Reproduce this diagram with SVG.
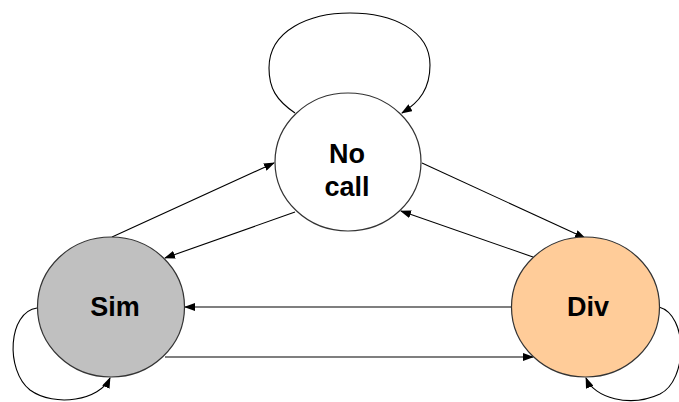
<svg xmlns="http://www.w3.org/2000/svg" width="679" height="402" viewBox="0 0 679 402">
  <style>
    .node { stroke: #333333; stroke-width: 1.2; }
    .label { font-family: "Liberation Sans", Arial, sans-serif; font-weight: bold; font-size: 27px; fill: #000000; text-anchor: middle; }
    .edge { fill: none; stroke: #000000; stroke-width: 1.1; marker-end: url(#arrow); }
  </style>
  <defs>
    <marker id="arrow" markerWidth="11" markerHeight="8" refX="10" refY="4" orient="auto" markerUnits="userSpaceOnUse">
      <path d="M0,0 L11,4 L0,8 Z" fill="#000000"/>
    </marker>
  </defs>
  <rect width="679" height="402" fill="#ffffff"/>

  <g id="connectors">
    <!-- self loops -->
    <path class="edge" d="M295,113 C276,100 269,88 269,68 C269,30 310,13 350,13 C392,13 430,30 430,65 C430,88 420,102 402,113"/>
    <path class="edge" d="M37,308 C8,312 5,370 30,390 C55,408 100,400 110,378"/>
    <path class="edge" d="M659,307 C688,315 688,380 660,394 C630,408 594,398 586,378"/>
    <!-- between nodes -->
    <path class="edge" d="M112,237 L274,163"/>
    <path class="edge" d="M295,212 L165,258"/>
    <path class="edge" d="M422,163 L585,238"/>
    <path class="edge" d="M533,257 L401,211"/>
    <path class="edge" d="M511,307 L185,307"/>
    <path class="edge" d="M165,357 L533,357"/>
  </g>

  <g id="node-nocall">
    <ellipse class="node" cx="348" cy="162" rx="73" ry="69" fill="#ffffff"/>
    <text class="label" x="347" y="163">No</text>
    <text class="label" x="347" y="196">call</text>
  </g>
  <g id="node-sim">
    <ellipse class="node" cx="111" cy="307" rx="73.5" ry="70" fill="#c0c0c0"/>
    <text class="label" x="115" y="316">Sim</text>
  </g>
  <g id="node-div">
    <ellipse class="node" cx="585.5" cy="307" rx="74" ry="70" fill="#ffcc99"/>
    <text class="label" x="588" y="316">Div</text>
  </g>
</svg>
